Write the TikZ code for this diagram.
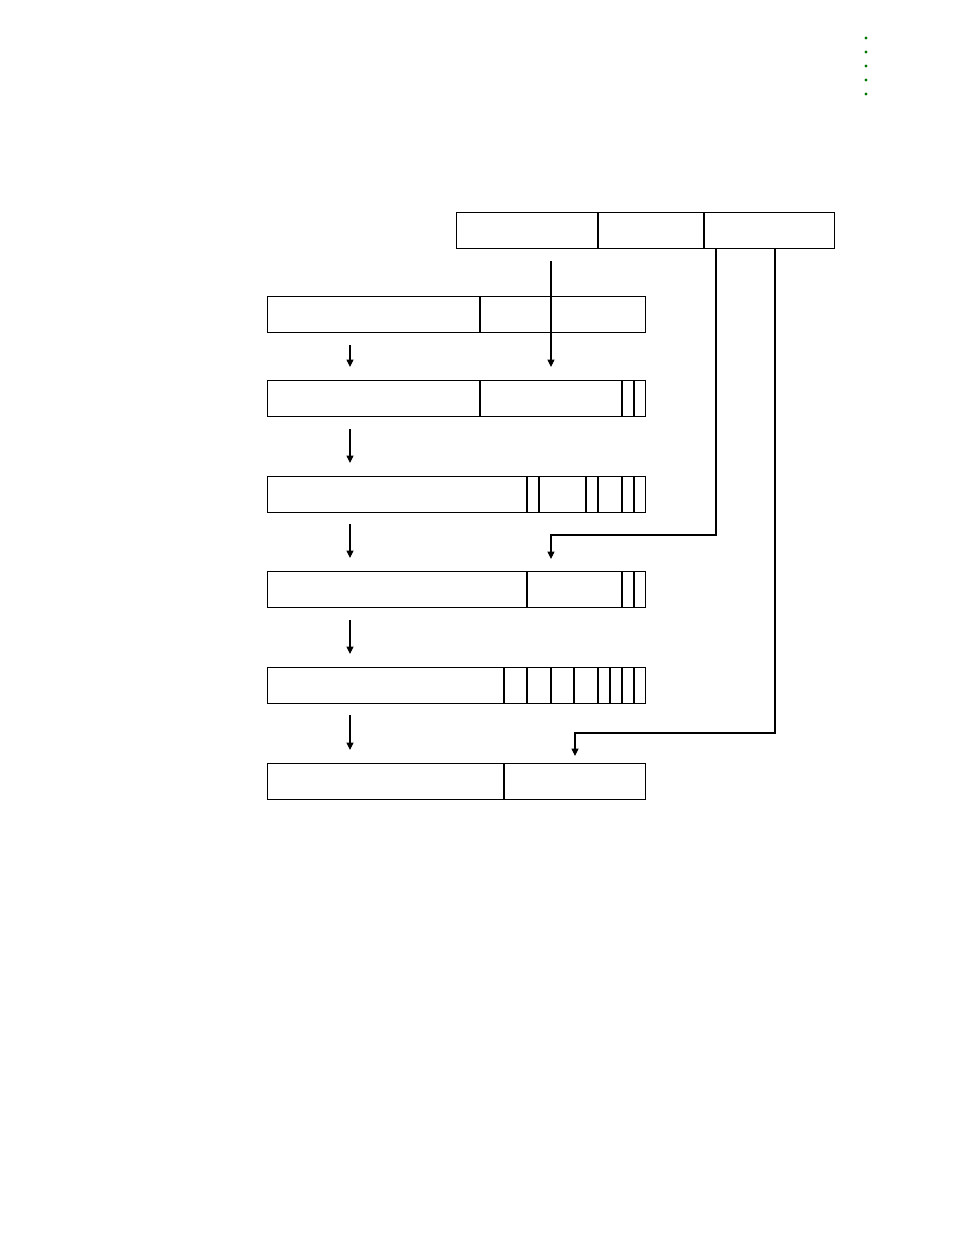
\documentclass[tikz,border=0pt]{standalone}
\usepackage{xcolor}
\usepackage{tikz}
\usetikzlibrary{arrows.meta}

\definecolor{dotgreen}{RGB}{0,120,0}
\tikzset{
  rowbox/.style={draw,line width=0.8pt,rectangle,inner sep=0pt,anchor=north west,minimum height=27pt},
  divider/.style={line width=0.8pt},
  arr/.style={line width=0.8pt,-{Triangle[length=5.5pt,width=5.25pt]}}
}

\begin{document}
\begin{tikzpicture}[x=0.75pt,y=0.75pt,yscale=-1,xscale=1]
        \useasboundingbox (0,0) rectangle (954,1235);
        % green dots top right
        \foreach \dy in {38,52,66,80,94}
            \fill[dotgreen] (866,\dy) circle (1.6);

        % top box
        \node [rowbox,minimum width=283.5pt] (top) at (456,212) {};
        \foreach \dx in {598,704}
            \draw[divider] (\dx,0 |- top.north) -- (\dx,0 |- top.south);

        % rows
        \node [rowbox,minimum width=283.5pt] (r1) at (267,296) {};
        \node [rowbox,minimum width=283.5pt] (r2) at (267,380) {};
        \node [rowbox,minimum width=283.5pt] (r3) at (267,476) {};
        \node [rowbox,minimum width=283.5pt] (r4) at (267,571) {};
        \node [rowbox,minimum width=283.5pt] (r5) at (267,667) {};
        \node [rowbox,minimum width=283.5pt] (r6) at (267,763) {};

        \draw[divider] (480,0 |- r1.north) -- (480,0 |- r1.south);
        \foreach \dx in {480,622,634}
            \draw[divider] (\dx,0 |- r2.north) -- (\dx,0 |- r2.south);
        \foreach \dx in {527,539,586,598,622,634}
            \draw[divider] (\dx,0 |- r3.north) -- (\dx,0 |- r3.south);
        \foreach \dx in {527,622,634}
            \draw[divider] (\dx,0 |- r4.north) -- (\dx,0 |- r4.south);
        \foreach \dx in {504,527,551,574,598,610,622,634}
            \draw[divider] (\dx,0 |- r5.north) -- (\dx,0 |- r5.south);
        \draw[divider] (504,0 |- r6.north) -- (504,0 |- r6.south);

        % left arrows between rows
        \draw[arr,shorten <=9pt,shorten >=9.75pt] (350,0 |- r1.south) -- (350,0 |- r2.north);
        \draw[arr,shorten <=9pt,shorten >=9.75pt] (350,0 |- r2.south) -- (350,0 |- r3.north);
        \draw[arr,shorten <=8.25pt,shorten >=9.75pt] (350,0 |- r3.south) -- (350,0 |- r4.north);
        \draw[arr,shorten <=9pt,shorten >=9.75pt] (350,0 |- r4.south) -- (350,0 |- r5.north);
        \draw[arr,shorten <=8.25pt,shorten >=9.75pt] (350,0 |- r5.south) -- (350,0 |- r6.north);

        % arrows from the top box
        \coordinate (bendA) at (551,535);
        \coordinate (bendB) at (575,733);
        \draw[arr,shorten <=9pt,shorten >=9.75pt] (551,0 |- top.south) -- (551,0 |- r2.north);
        \draw[arr,shorten >=9pt] (716,0 |- top.south) |- (bendA) -- (bendA |- r4.north);
        \draw[arr,shorten >=5.25pt] (775,0 |- top.south) |- (bendB) -- (bendB |- r6.north);
\end{tikzpicture}
\end{document}
